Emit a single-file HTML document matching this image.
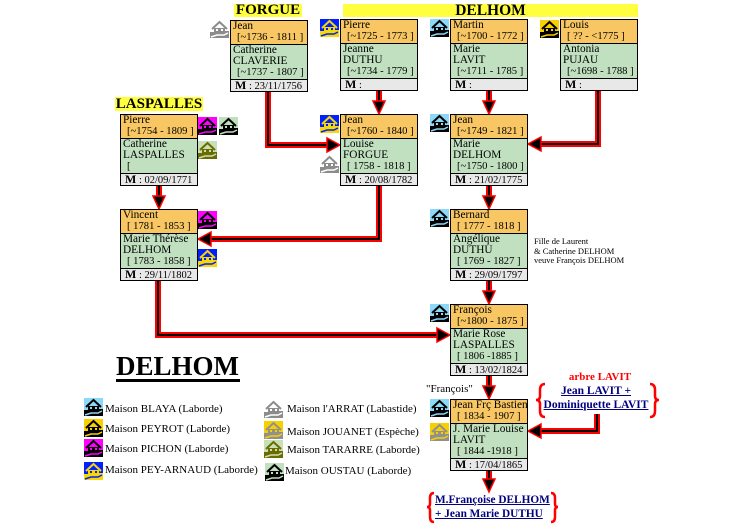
<!DOCTYPE html>
<html><head><meta charset="utf-8">
<style>
html,body{margin:0;padding:0;background:#fff;}
body{width:754px;height:529px;position:relative;overflow:hidden;font-family:"Liberation Serif",serif;color:#000;}
.a{position:absolute;}
.box{position:absolute;width:78px;height:72px;box-sizing:border-box;border:1px solid #000;font-size:11.3px;}
.o{height:23px;background:#F8C662;border-bottom:1px solid #000;line-height:11px;}
.g{height:34px;background:#C0E0C0;border-bottom:1px solid #000;line-height:11px;}
.m{height:11px;background:#E8E8E8;line-height:11px;padding-left:4px;font-size:10.5px;white-space:nowrap;}
.m b{font-size:12px;}
.n{padding-left:2px;white-space:nowrap;}
.d{padding-left:6px;white-space:nowrap;font-size:10.6px;}
.ic{position:absolute;}
.lg{position:absolute;font-size:11px;line-height:14px;white-space:nowrap;}
.lk{color:#000080;font-weight:bold;text-decoration:underline;white-space:nowrap;}
</style></head><body>

<!-- connectors -->
<svg class="a" style="left:0;top:0" width="754" height="529" viewBox="0 0 754 529">
<g fill="none" stroke="#f00" stroke-width="6" stroke-linejoin="miter">
<path d="M268,91 V145 H328"/>
<path d="M379,90 V101"/>
<path d="M489,90 V101"/>
<path d="M598,90 V144 H541"/>
<path d="M379,185 V239 H211"/>
<path d="M159,185 V196"/>
<path d="M489,185 V196"/>
<path d="M489,280 V291"/>
<path d="M158,280 V335 H437"/>
<path d="M489,375 V386"/>
<path d="M597,414 V431 H541"/>
<path d="M489,470 V479"/>
</g>
<g fill="none" stroke="#000" stroke-width="2">
<path d="M268,91 V145 H328"/>
<path d="M379,90 V101"/>
<path d="M489,90 V101"/>
<path d="M598,90 V144 H541"/>
<path d="M379,185 V239 H211"/>
<path d="M159,185 V196"/>
<path d="M489,185 V196"/>
<path d="M489,280 V291"/>
<path d="M158,280 V335 H437"/>
<path d="M489,375 V386"/>
<path d="M597,414 V431 H541"/>
<path d="M489,470 V479"/>
</g>
<g fill="#000" stroke="#f00" stroke-width="1.5">
<polygon points="327,138 340,145 327,152"/>
<polygon points="373,101 379,114 385,101"/>
<polygon points="483,101 489,114 495,101"/>
<polygon points="541,137 528,144 541,151"/>
<polygon points="211,232 198,239 211,246"/>
<polygon points="153,196 159,209 165,196"/>
<polygon points="483,196 489,209 495,196"/>
<polygon points="483,291 489,304 495,291"/>
<polygon points="437,328 450,335 437,342"/>
<polygon points="483,386 489,399 495,386"/>
<polygon points="541,424 528,431 541,438"/>
<polygon points="483,479 489,492 495,479"/>
</g>
<g fill="none" stroke="#f00" stroke-width="2.5">
<path d="M545,384 Q540,384 540,390 L540,396 Q540,400 536,400 Q540,400 540,404 L540,411 Q540,417 545,417"/>
<path d="M650,384 Q655,384 655,390 L655,396 Q655,400 659,400 Q655,400 655,404 L655,411 Q655,417 650,417"/>
<path d="M434,493 Q430,493 430,498 L430,504 Q430,507 427,507 Q430,507 430,510 L430,517 Q430,522 434,522"/>
<path d="M551,493 Q555,493 555,498 L555,504 Q555,507 558,507 Q555,507 555,510 L555,517 Q555,522 551,522"/>
</g>
</svg>

<!-- family labels -->
<div class="a" style="left:234px;top:4px;width:68px;height:13px;background:#FFFF40;font:bold 15px/13px 'Liberation Serif',serif;text-align:center">FORGUE</div>
<div class="a" style="left:343px;top:4px;width:295px;height:13px;background:#FFFF40;font:bold 15.5px/13px 'Liberation Serif',serif;text-align:center">DELHOM</div>
<div class="a" style="left:115px;top:97px;width:88px;height:14px;background:#FFFF40;font:bold 15px/14px 'Liberation Serif',serif;text-align:center">LASPALLES</div>

<!-- boxes -->
<div class="box" style="left:230px;top:20px"><div class="o"><div class="n">Jean</div><div class="d">[~1736 - 1811 ]</div></div><div class="g"><div class="n">Catherine</div><div class="n">CLAVERIE</div><div class="d">[~1737 - 1807 ]</div></div><div class="m"><b>M</b> : 23/11/1756</div></div>

<div class="box" style="left:340px;top:19px"><div class="o"><div class="n">Pierre</div><div class="d">[~1725 - 1773 ]</div></div><div class="g"><div class="n">Jeanne</div><div class="n">DUTHU</div><div class="d">[~1734 - 1779 ]</div></div><div class="m"><b>M</b> :</div></div>

<div class="box" style="left:450px;top:19px"><div class="o"><div class="n">Martin</div><div class="d">[~1700 - 1772 ]</div></div><div class="g"><div class="n">Marie</div><div class="n">LAVIT</div><div class="d">[~1711 - 1785 ]</div></div><div class="m"><b>M</b> :</div></div>

<div class="box" style="left:560px;top:19px"><div class="o"><div class="n">Louis</div><div class="d">[ ?? - &lt;1775 ]</div></div><div class="g"><div class="n">Antonia</div><div class="n">PUJAU</div><div class="d">[~1698 - 1788 ]</div></div><div class="m"><b>M</b> :</div></div>

<div class="box" style="left:340px;top:114px"><div class="o"><div class="n">Jean</div><div class="d">[~1760 - 1840 ]</div></div><div class="g"><div class="n">Louise</div><div class="n">FORGUE</div><div class="d">[ 1758 - 1818 ]</div></div><div class="m"><b>M</b> : 20/08/1782</div></div>

<div class="box" style="left:450px;top:114px"><div class="o"><div class="n">Jean</div><div class="d">[~1749 - 1821 ]</div></div><div class="g"><div class="n">Marie</div><div class="n">DELHOM</div><div class="d">[~1750 - 1800 ]</div></div><div class="m"><b>M</b> : 21/02/1775</div></div>

<div class="box" style="left:120px;top:114px"><div class="o"><div class="n">Pierre</div><div class="d">[~1754 - 1809 ]</div></div><div class="g"><div class="n">Catherine</div><div class="n">LASPALLES</div><div class="d">[</div></div><div class="m"><b>M</b> : 02/09/1771</div></div>

<div class="box" style="left:120px;top:209px"><div class="o"><div class="n">Vincent</div><div class="d">[ 1781 - 1853 ]</div></div><div class="g"><div class="n">Marie Thérèse</div><div class="n">DELHOM</div><div class="d">[ 1783 - 1858 ]</div></div><div class="m"><b>M</b> : 29/11/1802</div></div>

<div class="box" style="left:450px;top:209px"><div class="o"><div class="n">Bernard</div><div class="d">[ 1777 - 1818 ]</div></div><div class="g"><div class="n">Angélique</div><div class="n">DUTHU</div><div class="d">[ 1769 - 1827 ]</div></div><div class="m"><b>M</b> : 29/09/1797</div></div>

<div class="box" style="left:450px;top:304px"><div class="o"><div class="n">François</div><div class="d">[~1800 - 1875 ]</div></div><div class="g"><div class="n">Marie Rose</div><div class="n">LASPALLES</div><div class="d">[ 1806 -1885 ]</div></div><div class="m"><b>M</b> : 13/02/1824</div></div>

<div class="box" style="left:450px;top:399px"><div class="o"><div class="n">Jean Frç Bastien</div><div class="d">[ 1834 - 1907 ]</div></div><div class="g"><div class="n">J. Marie Louise</div><div class="n">LAVIT</div><div class="d">[ 1844 -1918 ]</div></div><div class="m"><b>M</b> : 17/04/1865</div></div>

<!-- icons: BLAYA -->
<svg class="ic" style="left:430px;top:19px" width="19" height="18" viewBox="0 0 19 18"><rect width="19" height="18" fill="#8CD8F8"/><path d="M0 12 L4 12 L4 14 L15 14 L15 11 L19 11 L19 18 L0 18Z" fill="#000"/><path d="M2 9 L9.5 2 L17 9" fill="none" stroke="#000" stroke-width="2"/><rect x="4" y="8" width="11" height="6" fill="#000"/><rect x="6" y="9" width="2" height="2" fill="#8CD8F8"/><rect x="11" y="9" width="2" height="2" fill="#8CD8F8"/><path d="M1 17 L7 15 L14 15 L18 13" stroke="#8CD8F8" stroke-width="1.5" fill="none"/></svg>
<svg class="ic" style="left:430px;top:114px" width="19" height="18" viewBox="0 0 19 18"><rect width="19" height="18" fill="#8CD8F8"/><path d="M0 12 L4 12 L4 14 L15 14 L15 11 L19 11 L19 18 L0 18Z" fill="#000"/><path d="M2 9 L9.5 2 L17 9" fill="none" stroke="#000" stroke-width="2"/><rect x="4" y="8" width="11" height="6" fill="#000"/><rect x="6" y="9" width="2" height="2" fill="#8CD8F8"/><rect x="11" y="9" width="2" height="2" fill="#8CD8F8"/><path d="M1 17 L7 15 L14 15 L18 13" stroke="#8CD8F8" stroke-width="1.5" fill="none"/></svg>
<svg class="ic" style="left:430px;top:209px" width="19" height="18" viewBox="0 0 19 18"><rect width="19" height="18" fill="#8CD8F8"/><path d="M0 12 L4 12 L4 14 L15 14 L15 11 L19 11 L19 18 L0 18Z" fill="#000"/><path d="M2 9 L9.5 2 L17 9" fill="none" stroke="#000" stroke-width="2"/><rect x="4" y="8" width="11" height="6" fill="#000"/><rect x="6" y="9" width="2" height="2" fill="#8CD8F8"/><rect x="11" y="9" width="2" height="2" fill="#8CD8F8"/><path d="M1 17 L7 15 L14 15 L18 13" stroke="#8CD8F8" stroke-width="1.5" fill="none"/></svg>
<svg class="ic" style="left:430px;top:304px" width="19" height="18" viewBox="0 0 19 18"><rect width="19" height="18" fill="#8CD8F8"/><path d="M0 12 L4 12 L4 14 L15 14 L15 11 L19 11 L19 18 L0 18Z" fill="#000"/><path d="M2 9 L9.5 2 L17 9" fill="none" stroke="#000" stroke-width="2"/><rect x="4" y="8" width="11" height="6" fill="#000"/><rect x="6" y="9" width="2" height="2" fill="#8CD8F8"/><rect x="11" y="9" width="2" height="2" fill="#8CD8F8"/><path d="M1 17 L7 15 L14 15 L18 13" stroke="#8CD8F8" stroke-width="1.5" fill="none"/></svg>
<svg class="ic" style="left:430px;top:399px" width="19" height="18" viewBox="0 0 19 18"><rect width="19" height="18" fill="#8CD8F8"/><path d="M0 12 L4 12 L4 14 L15 14 L15 11 L19 11 L19 18 L0 18Z" fill="#000"/><path d="M2 9 L9.5 2 L17 9" fill="none" stroke="#000" stroke-width="2"/><rect x="4" y="8" width="11" height="6" fill="#000"/><rect x="6" y="9" width="2" height="2" fill="#8CD8F8"/><rect x="11" y="9" width="2" height="2" fill="#8CD8F8"/><path d="M1 17 L7 15 L14 15 L18 13" stroke="#8CD8F8" stroke-width="1.5" fill="none"/></svg>
<svg class="ic" style="left:84px;top:398px" width="19" height="18" viewBox="0 0 19 18"><rect width="19" height="18" fill="#8CD8F8"/><path d="M0 12 L4 12 L4 14 L15 14 L15 11 L19 11 L19 18 L0 18Z" fill="#000"/><path d="M2 9 L9.5 2 L17 9" fill="none" stroke="#000" stroke-width="2"/><rect x="4" y="8" width="11" height="6" fill="#000"/><rect x="6" y="9" width="2" height="2" fill="#8CD8F8"/><rect x="11" y="9" width="2" height="2" fill="#8CD8F8"/><path d="M1 17 L7 15 L14 15 L18 13" stroke="#8CD8F8" stroke-width="1.5" fill="none"/></svg>

<!-- PEYROT -->
<svg class="ic" style="left:540px;top:20px" width="19" height="18" viewBox="0 0 19 18"><rect width="19" height="18" fill="#F8D000"/><path d="M0 12 L4 12 L4 14 L15 14 L15 11 L19 11 L19 18 L0 18Z" fill="#000"/><path d="M2 9 L9.5 2 L17 9" fill="none" stroke="#000" stroke-width="2"/><rect x="4" y="8" width="11" height="6" fill="#000"/><rect x="6" y="9" width="2" height="2" fill="#F8D000"/><rect x="11" y="9" width="2" height="2" fill="#F8D000"/><path d="M1 17 L7 15 L14 15 L18 13" stroke="#F8D000" stroke-width="1.5" fill="none"/></svg>
<svg class="ic" style="left:84px;top:419px" width="19" height="18" viewBox="0 0 19 18"><rect width="19" height="18" fill="#F8D000"/><path d="M0 12 L4 12 L4 14 L15 14 L15 11 L19 11 L19 18 L0 18Z" fill="#000"/><path d="M2 9 L9.5 2 L17 9" fill="none" stroke="#000" stroke-width="2"/><rect x="4" y="8" width="11" height="6" fill="#000"/><rect x="6" y="9" width="2" height="2" fill="#F8D000"/><rect x="11" y="9" width="2" height="2" fill="#F8D000"/><path d="M1 17 L7 15 L14 15 L18 13" stroke="#F8D000" stroke-width="1.5" fill="none"/></svg>

<!-- PICHON -->
<svg class="ic" style="left:198px;top:117px" width="19" height="18" viewBox="0 0 19 18"><rect width="19" height="18" fill="#FF00FF"/><path d="M0 12 L4 12 L4 14 L15 14 L15 11 L19 11 L19 18 L0 18Z" fill="#000"/><path d="M2 9 L9.5 2 L17 9" fill="none" stroke="#000" stroke-width="2"/><rect x="4" y="8" width="11" height="6" fill="#000"/><rect x="6" y="9" width="2" height="2" fill="#FF00FF"/><rect x="11" y="9" width="2" height="2" fill="#FF00FF"/><path d="M1 17 L7 15 L14 15 L18 13" stroke="#FF00FF" stroke-width="1.5" fill="none"/></svg>
<svg class="ic" style="left:198px;top:211px" width="19" height="18" viewBox="0 0 19 18"><rect width="19" height="18" fill="#FF00FF"/><path d="M0 12 L4 12 L4 14 L15 14 L15 11 L19 11 L19 18 L0 18Z" fill="#000"/><path d="M2 9 L9.5 2 L17 9" fill="none" stroke="#000" stroke-width="2"/><rect x="4" y="8" width="11" height="6" fill="#000"/><rect x="6" y="9" width="2" height="2" fill="#FF00FF"/><rect x="11" y="9" width="2" height="2" fill="#FF00FF"/><path d="M1 17 L7 15 L14 15 L18 13" stroke="#FF00FF" stroke-width="1.5" fill="none"/></svg>
<svg class="ic" style="left:84px;top:439px" width="19" height="18" viewBox="0 0 19 18"><rect width="19" height="18" fill="#FF00FF"/><path d="M0 12 L4 12 L4 14 L15 14 L15 11 L19 11 L19 18 L0 18Z" fill="#000"/><path d="M2 9 L9.5 2 L17 9" fill="none" stroke="#000" stroke-width="2"/><rect x="4" y="8" width="11" height="6" fill="#000"/><rect x="6" y="9" width="2" height="2" fill="#FF00FF"/><rect x="11" y="9" width="2" height="2" fill="#FF00FF"/><path d="M1 17 L7 15 L14 15 L18 13" stroke="#FF00FF" stroke-width="1.5" fill="none"/></svg>

<!-- PEY-ARNAUD -->
<svg class="ic" style="left:320px;top:19px" width="19" height="18" viewBox="0 0 19 18"><rect width="19" height="18" fill="#0020FF"/><path d="M0 12 L4 12 L4 14 L15 14 L15 11 L19 11 L19 18 L0 18Z" fill="#F8D800"/><path d="M2 9 L9.5 2 L17 9" fill="none" stroke="#F8D800" stroke-width="2"/><rect x="4" y="8" width="11" height="6" fill="#F8D800"/><rect x="6" y="9" width="2" height="2" fill="#0020FF"/><rect x="11" y="9" width="2" height="2" fill="#0020FF"/><path d="M1 17 L7 15 L14 15 L18 13" stroke="#0020FF" stroke-width="1.5" fill="none"/></svg>
<svg class="ic" style="left:320px;top:115px" width="19" height="18" viewBox="0 0 19 18"><rect width="19" height="18" fill="#0020FF"/><path d="M0 12 L4 12 L4 14 L15 14 L15 11 L19 11 L19 18 L0 18Z" fill="#F8D800"/><path d="M2 9 L9.5 2 L17 9" fill="none" stroke="#F8D800" stroke-width="2"/><rect x="4" y="8" width="11" height="6" fill="#F8D800"/><rect x="6" y="9" width="2" height="2" fill="#0020FF"/><rect x="11" y="9" width="2" height="2" fill="#0020FF"/><path d="M1 17 L7 15 L14 15 L18 13" stroke="#0020FF" stroke-width="1.5" fill="none"/></svg>
<svg class="ic" style="left:198px;top:249px" width="19" height="18" viewBox="0 0 19 18"><rect width="19" height="18" fill="#0020FF"/><path d="M0 12 L4 12 L4 14 L15 14 L15 11 L19 11 L19 18 L0 18Z" fill="#F8D800"/><path d="M2 9 L9.5 2 L17 9" fill="none" stroke="#F8D800" stroke-width="2"/><rect x="4" y="8" width="11" height="6" fill="#F8D800"/><rect x="6" y="9" width="2" height="2" fill="#0020FF"/><rect x="11" y="9" width="2" height="2" fill="#0020FF"/><path d="M1 17 L7 15 L14 15 L18 13" stroke="#0020FF" stroke-width="1.5" fill="none"/></svg>
<svg class="ic" style="left:84px;top:462px" width="19" height="18" viewBox="0 0 19 18"><rect width="19" height="18" fill="#0020FF"/><path d="M0 12 L4 12 L4 14 L15 14 L15 11 L19 11 L19 18 L0 18Z" fill="#F8D800"/><path d="M2 9 L9.5 2 L17 9" fill="none" stroke="#F8D800" stroke-width="2"/><rect x="4" y="8" width="11" height="6" fill="#F8D800"/><rect x="6" y="9" width="2" height="2" fill="#0020FF"/><rect x="11" y="9" width="2" height="2" fill="#0020FF"/><path d="M1 17 L7 15 L14 15 L18 13" stroke="#0020FF" stroke-width="1.5" fill="none"/></svg>

<!-- l'ARRAT -->
<svg class="ic" style="left:210px;top:20px" width="19" height="18" viewBox="0 0 19 18"><rect width="19" height="18" fill="#fff"/><path d="M0 12 L4 12 L4 14 L15 14 L15 11 L19 11 L19 18 L0 18Z" fill="#8C8C8C"/><path d="M2 9 L9.5 2 L17 9" fill="none" stroke="#8C8C8C" stroke-width="2"/><rect x="4" y="8" width="11" height="6" fill="#8C8C8C"/><rect x="6" y="9" width="2" height="2" fill="#fff"/><rect x="11" y="9" width="2" height="2" fill="#fff"/><path d="M1 17 L7 15 L14 15 L18 13" stroke="#fff" stroke-width="1.5" fill="none"/></svg>
<svg class="ic" style="left:320px;top:155px" width="19" height="18" viewBox="0 0 19 18"><rect width="19" height="18" fill="#fff"/><path d="M0 12 L4 12 L4 14 L15 14 L15 11 L19 11 L19 18 L0 18Z" fill="#8C8C8C"/><path d="M2 9 L9.5 2 L17 9" fill="none" stroke="#8C8C8C" stroke-width="2"/><rect x="4" y="8" width="11" height="6" fill="#8C8C8C"/><rect x="6" y="9" width="2" height="2" fill="#fff"/><rect x="11" y="9" width="2" height="2" fill="#fff"/><path d="M1 17 L7 15 L14 15 L18 13" stroke="#fff" stroke-width="1.5" fill="none"/></svg>
<svg class="ic" style="left:264px;top:400px" width="19" height="18" viewBox="0 0 19 18"><rect width="19" height="18" fill="#fff"/><path d="M0 12 L4 12 L4 14 L15 14 L15 11 L19 11 L19 18 L0 18Z" fill="#8C8C8C"/><path d="M2 9 L9.5 2 L17 9" fill="none" stroke="#8C8C8C" stroke-width="2"/><rect x="4" y="8" width="11" height="6" fill="#8C8C8C"/><rect x="6" y="9" width="2" height="2" fill="#fff"/><rect x="11" y="9" width="2" height="2" fill="#fff"/><path d="M1 17 L7 15 L14 15 L18 13" stroke="#fff" stroke-width="1.5" fill="none"/></svg>

<!-- JOUANET -->
<svg class="ic" style="left:430px;top:423px" width="19" height="18" viewBox="0 0 19 18"><rect width="19" height="18" fill="#F8D000"/><path d="M0 12 L4 12 L4 14 L15 14 L15 11 L19 11 L19 18 L0 18Z" fill="#909090"/><path d="M2 9 L9.5 2 L17 9" fill="none" stroke="#909090" stroke-width="2"/><rect x="4" y="8" width="11" height="6" fill="#909090"/><rect x="6" y="9" width="2" height="2" fill="#F8D000"/><rect x="11" y="9" width="2" height="2" fill="#F8D000"/><path d="M1 17 L7 15 L14 15 L18 13" stroke="#F8D000" stroke-width="1.5" fill="none"/></svg>
<svg class="ic" style="left:264px;top:421px" width="19" height="18" viewBox="0 0 19 18"><rect width="19" height="18" fill="#F8D000"/><path d="M0 12 L4 12 L4 14 L15 14 L15 11 L19 11 L19 18 L0 18Z" fill="#909090"/><path d="M2 9 L9.5 2 L17 9" fill="none" stroke="#909090" stroke-width="2"/><rect x="4" y="8" width="11" height="6" fill="#909090"/><rect x="6" y="9" width="2" height="2" fill="#F8D000"/><rect x="11" y="9" width="2" height="2" fill="#F8D000"/><path d="M1 17 L7 15 L14 15 L18 13" stroke="#F8D000" stroke-width="1.5" fill="none"/></svg>

<!-- TARARRE -->
<svg class="ic" style="left:198px;top:141px" width="19" height="18" viewBox="0 0 19 18"><rect width="19" height="18" fill="#C8E0B8"/><path d="M0 12 L4 12 L4 14 L15 14 L15 11 L19 11 L19 18 L0 18Z" fill="#6B6B00"/><path d="M2 9 L9.5 2 L17 9" fill="none" stroke="#6B6B00" stroke-width="2"/><rect x="4" y="8" width="11" height="6" fill="#6B6B00"/><rect x="6" y="9" width="2" height="2" fill="#C8E0B8"/><rect x="11" y="9" width="2" height="2" fill="#C8E0B8"/><path d="M1 17 L7 15 L14 15 L18 13" stroke="#C8E0B8" stroke-width="1.5" fill="none"/></svg>
<svg class="ic" style="left:264px;top:440px" width="19" height="18" viewBox="0 0 19 18"><rect width="19" height="18" fill="#C8E0B8"/><path d="M0 12 L4 12 L4 14 L15 14 L15 11 L19 11 L19 18 L0 18Z" fill="#6B6B00"/><path d="M2 9 L9.5 2 L17 9" fill="none" stroke="#6B6B00" stroke-width="2"/><rect x="4" y="8" width="11" height="6" fill="#6B6B00"/><rect x="6" y="9" width="2" height="2" fill="#C8E0B8"/><rect x="11" y="9" width="2" height="2" fill="#C8E0B8"/><path d="M1 17 L7 15 L14 15 L18 13" stroke="#C8E0B8" stroke-width="1.5" fill="none"/></svg>

<!-- OUSTAU -->
<svg class="ic" style="left:219px;top:117px" width="19" height="18" viewBox="0 0 19 18"><rect width="19" height="18" fill="#C0E0C0"/><path d="M0 12 L4 12 L4 14 L15 14 L15 11 L19 11 L19 18 L0 18Z" fill="#000"/><path d="M2 9 L9.5 2 L17 9" fill="none" stroke="#000" stroke-width="2"/><rect x="4" y="8" width="11" height="6" fill="#000"/><rect x="6" y="9" width="2" height="2" fill="#C0E0C0"/><rect x="11" y="9" width="2" height="2" fill="#C0E0C0"/><path d="M1 17 L7 15 L14 15 L18 13" stroke="#C0E0C0" stroke-width="1.5" fill="none"/></svg>
<svg class="ic" style="left:265px;top:463px" width="19" height="18" viewBox="0 0 19 18"><rect width="19" height="18" fill="#C0E0C0"/><path d="M0 12 L4 12 L4 14 L15 14 L15 11 L19 11 L19 18 L0 18Z" fill="#000"/><path d="M2 9 L9.5 2 L17 9" fill="none" stroke="#000" stroke-width="2"/><rect x="4" y="8" width="11" height="6" fill="#000"/><rect x="6" y="9" width="2" height="2" fill="#C0E0C0"/><rect x="11" y="9" width="2" height="2" fill="#C0E0C0"/><path d="M1 17 L7 15 L14 15 L18 13" stroke="#C0E0C0" stroke-width="1.5" fill="none"/></svg>

<!-- annotation -->
<div class="a" style="left:534px;top:237px;font-size:8.5px;line-height:9.7px;white-space:nowrap">Fille de Laurent<br>&amp; Catherine DELHOM<br>veuve François DELHOM</div>

<!-- big title -->
<div class="a" style="left:116px;top:353px;font:bold 27px/27px 'Liberation Serif',serif;white-space:nowrap">DELHOM</div>
<div class="a" style="left:116px;top:379px;width:124px;height:3px;background:#000"></div>

<!-- legend -->
<div class="lg" style="left:105px;top:402px">Maison BLAYA (Laborde)</div>
<div class="lg" style="left:105px;top:422px">Maison PEYROT (Laborde)</div>
<div class="lg" style="left:105px;top:442px">Maison PICHON (Laborde)</div>
<div class="lg" style="left:105px;top:463px">Maison PEY-ARNAUD (Laborde)</div>
<div class="lg" style="left:287px;top:402px">Maison l'ARRAT (Labastide)</div>
<div class="lg" style="left:287px;top:425px">Maison JOUANET (Espèche)</div>
<div class="lg" style="left:287px;top:443px">Maison TARARRE (Laborde)</div>
<div class="lg" style="left:285px;top:464px">Maison OUSTAU (Laborde)</div>

<!-- LAVIT -->
<div class="a" style="left:556px;top:370px;width:88px;text-align:center;color:#f00;font:bold 11px/14px 'Liberation Serif',serif;white-space:nowrap">arbre LAVIT</div>
<div class="a" style="left:540px;top:384px;width:112px;text-align:center;font-size:11.5px;line-height:14px"><span class="lk">Jean LAVIT +</span><br><span class="lk">Dominiquette LAVIT</span></div>
<div class="a" style="left:426px;top:382px;font-size:11px;line-height:14px;white-space:nowrap">"François"</div>

<div class="a" style="left:435px;top:494px;font-size:11.3px;line-height:13.5px"><span class="lk">M.Françoise DELHOM</span><br><span class="lk">+ Jean Marie DUTHU</span></div>

</body></html>
